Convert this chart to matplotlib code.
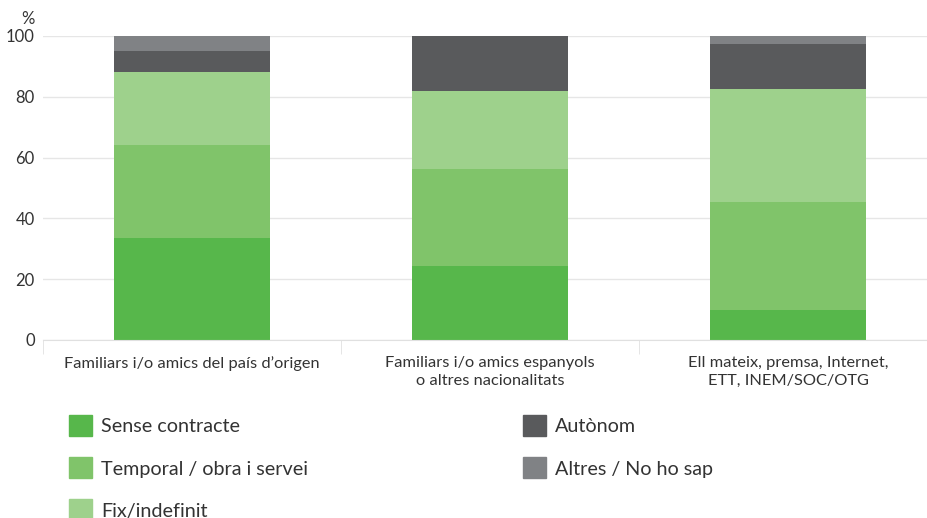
import matplotlib
matplotlib.use("Agg")
import matplotlib.pyplot as plt
import numpy as np
from matplotlib.patches import Rectangle

plt.rcParams["font.family"] = ["Lato", "DejaVu Sans"]

categories = [
    "Familiars i/o amics del país d’origen",
    "Familiars i/o amics espanyols\no altres nacionalitats",
    "Ell mateix, premsa, Internet,\nETT, INEM/SOC/OTG",
]
series = ["Sense contracte", "Temporal / obra i servei", "Fix/indefinit",
          "Autònom", "Altres / No ho sap"]
sense = [33.5, 24.3, 9.9]
temporal = [30.6, 31.9, 35.5]
fix = [24.1, 25.7, 37.2]
autonom = [6.9, 18.1, 14.8]
altres = [4.9, 0.0, 2.6]
values = [sense, temporal, fix, autonom, altres]
colors = ["#57b74b", "#80c46a", "#9ed18c", "#595a5c", "#808285"]
yticks = [0, 20, 40, 60, 80, 100]

W, H = 928, 518
TXT = "#333333"
fig = plt.figure(figsize=(W / 100, H / 100), dpi=100)
ax = fig.add_axes([43 / W, 1 - 340 / H, 894 / W, 304 / H])

x = np.arange(len(categories))
bottom = np.zeros(len(categories))
for vals, col in zip(values, colors):
    ax.bar(x, vals, 0.523, bottom=bottom, color=col, zorder=2)
    bottom += np.array(vals)

ax.set_xlim(-0.5, 2.5)
ax.set_ylim(0, 100)
ax.set_yticks(yticks)
ax.grid(axis="y", color="#e6e6e6", lw=1, zorder=0)
for s in ["top", "right", "left"]:
    ax.spines[s].set_visible(False)
ax.spines["bottom"].set_color("#e0e0e0")
ax.tick_params(axis="y", length=0, pad=6, labelsize=12, labelcolor=TXT)
ax.set_xticks(x)
ax.set_xticklabels(categories, fontsize=11.8, color=TXT, linespacing=1.35)
ax.tick_params(axis="x", length=0, pad=11.5)
# separators between categories
ax.set_xticks(np.arange(-0.5, 2.6, 1), minor=True)
ax.tick_params(axis="x", which="minor", length=10, color="#e0e0e0")
ax.text(-0.5 - 8 / 298, 103, "%", ha="right", va="bottom", fontsize=12,
        color=TXT)

# legend, two columns
pos = [(69, 425), (69, 467), (69, 509), (523, 425), (523, 467)]
for (px, py), name, col in zip(pos, series, colors):
    fig.add_artist(Rectangle((px / W, 1 - (py + 11) / H), 23 / W, 21 / H,
                             color=col, transform=fig.transFigure))
    fig.text((px + 32) / W, 1 - (py + 2) / H, name, fontsize=14.2, color=TXT,
             va="center", ha="left")

fig.savefig("out.png", dpi=100)
